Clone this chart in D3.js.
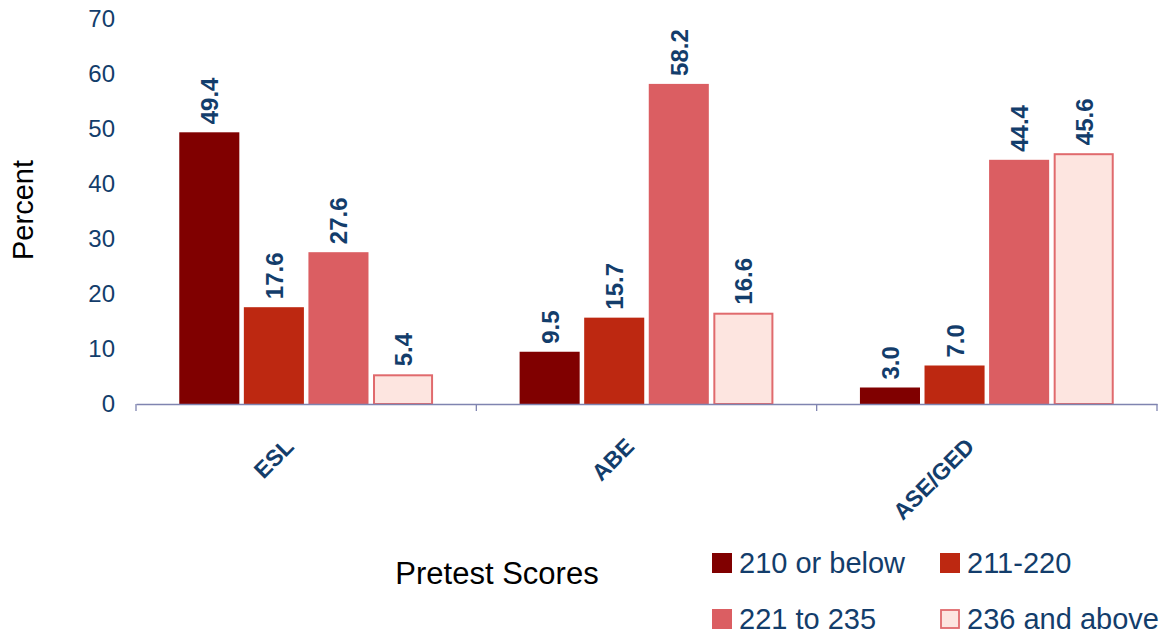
<!DOCTYPE html>
<html>
<head>
<meta charset="utf-8">
<script src="https://cdn.jsdelivr.net/npm/d3@7"></script>
<style>
    body { margin: 0; background: #fff; }
    svg text { font-family: "Liberation Sans", Arial, sans-serif; }
</style>
</head>
<body>
<svg id="chart" width="1162" height="633"></svg>
<script>
const categories = ['ESL', 'ABE', 'ASE/GED'];
const seriesNames = ['210 or below', '211-220', '221 to 235', '236 and above'];
const seriesValues = [
    [49.4, 9.5, 3.0],
    [17.6, 15.7, 7.0],
    [27.6, 58.2, 44.4],
    [5.4, 16.6, 45.6]
];
const yTicks = [0, 10, 20, 30, 40, 50, 60, 70];

const fills = ['#800000', '#bd2811', '#db5e62', '#fde5e0'];
const strokes = ['none', 'none', 'none', '#e06a6d'];
const navy = '#133d6b';

const svg = d3.select('#chart');
const margin = {left: 136, right: 1157, top: 19, bottom: 404};

const x0 = d3.scaleBand()
    .domain(categories)
    .range([margin.left, margin.right]);

const x1 = d3.scaleBand()
    .domain(d3.range(seriesNames.length))
    .range([0, x0.bandwidth()])
    .paddingInner(0.07)
    .paddingOuter(0.67);

const y = d3.scaleLinear()
    .domain([0, 70])
    .range([margin.bottom, margin.top]);

// y axis labels only
const yAxis = svg.append('g')
    .attr('transform', `translate(${margin.left},0)`)
    .call(d3.axisLeft(y).tickValues(yTicks).tickSize(0).tickPadding(21));
yAxis.select('.domain').remove();
yAxis.selectAll('text')
    .attr('fill', navy)
    .style('font-size', '24px');

// bars
const rows = [];
categories.forEach((c, ci) => {
    seriesValues.forEach((vals, si) => {
        rows.push({cat: c, s: si, v: vals[ci]});
    });
});

const bars = svg.append('g');
bars.selectAll('rect')
    .data(rows)
    .join('rect')
    .attr('x', d => x0(d.cat) + x1(d.s) + (d.s === 3 ? 1 : 0))
    .attr('y', d => y(d.v) + (d.s === 3 ? 1 : 0))
    .attr('width', d => x1.bandwidth() - (d.s === 3 ? 2 : 0))
    .attr('height', d => y(0) - y(d.v) - (d.s === 3 ? 1 : 0))
    .attr('fill', d => fills[d.s])
    .attr('stroke', d => strokes[d.s])
    .attr('stroke-width', 2);

bars.selectAll('text')
    .data(rows)
    .join('text')
    .attr('transform', d => `translate(${x0(d.cat) + x1(d.s) + x1.bandwidth() / 2 + 9},${y(d.v) - 8}) rotate(-90)`)
    .attr('fill', navy)
    .style('font-size', '24px')
    .style('font-weight', 'bold')
    .text(d => d.v.toFixed(1));

// x axis
const xAxis = svg.append('g')
    .attr('transform', `translate(0,${margin.bottom})`)
    .call(d3.axisBottom(x0).tickSize(0).tickFormat(''));
xAxis.select('.domain').attr('stroke', '#7f84b0').attr('stroke-width', 1.3);

const boundaries = [margin.left].concat(categories.map(c => x0(c) + x0.bandwidth()));
xAxis.selectAll('line.sep')
    .data(boundaries)
    .join('line')
    .attr('class', 'sep')
    .attr('x1', d => d).attr('x2', d => d)
    .attr('y1', 0).attr('y2', 7)
    .attr('stroke', '#7f84b0')
    .attr('stroke-width', 1.3);

svg.append('g').selectAll('text')
    .data(categories)
    .join('text')
    .attr('transform', c => `translate(${x0(c) + x0.bandwidth() / 2 - 11},${margin.bottom + 44}) rotate(-45)`)
    .attr('text-anchor', 'end')
    .attr('fill', navy)
    .style('font-size', '23px')
    .style('font-weight', 'bold')
    .text(c => c);

// axis titles
svg.append('text')
    .attr('transform', 'translate(33,210) rotate(-90)')
    .attr('text-anchor', 'middle')
    .style('font-size', '29px')
    .text('Percent');

svg.append('text')
    .attr('x', 497)
    .attr('y', 584)
    .attr('text-anchor', 'middle')
    .style('font-size', '31px')
    .text('Pretest Scores');

// legend
const legendPos = [[712, 553], [940, 553], [712, 609], [940, 609]];
const legend = svg.append('g').selectAll('g')
    .data(seriesNames)
    .join('g')
    .attr('transform', (d, i) => `translate(${legendPos[i][0]},${legendPos[i][1]})`);

legend.append('rect')
    .attr('x', (d, i) => i === 3 ? 1 : 0)
    .attr('y', (d, i) => i === 3 ? 1 : 0)
    .attr('width', (d, i) => i === 3 ? 18 : 20)
    .attr('height', (d, i) => i === 3 ? 18 : 20)
    .attr('fill', (d, i) => fills[i])
    .attr('stroke', (d, i) => strokes[i])
    .attr('stroke-width', 1.8);

legend.append('text')
    .attr('x', 27)
    .attr('y', 20)
    .attr('fill', navy)
    .style('font-size', '29px')
    .text(d => d);
</script>
</body>
</html>
